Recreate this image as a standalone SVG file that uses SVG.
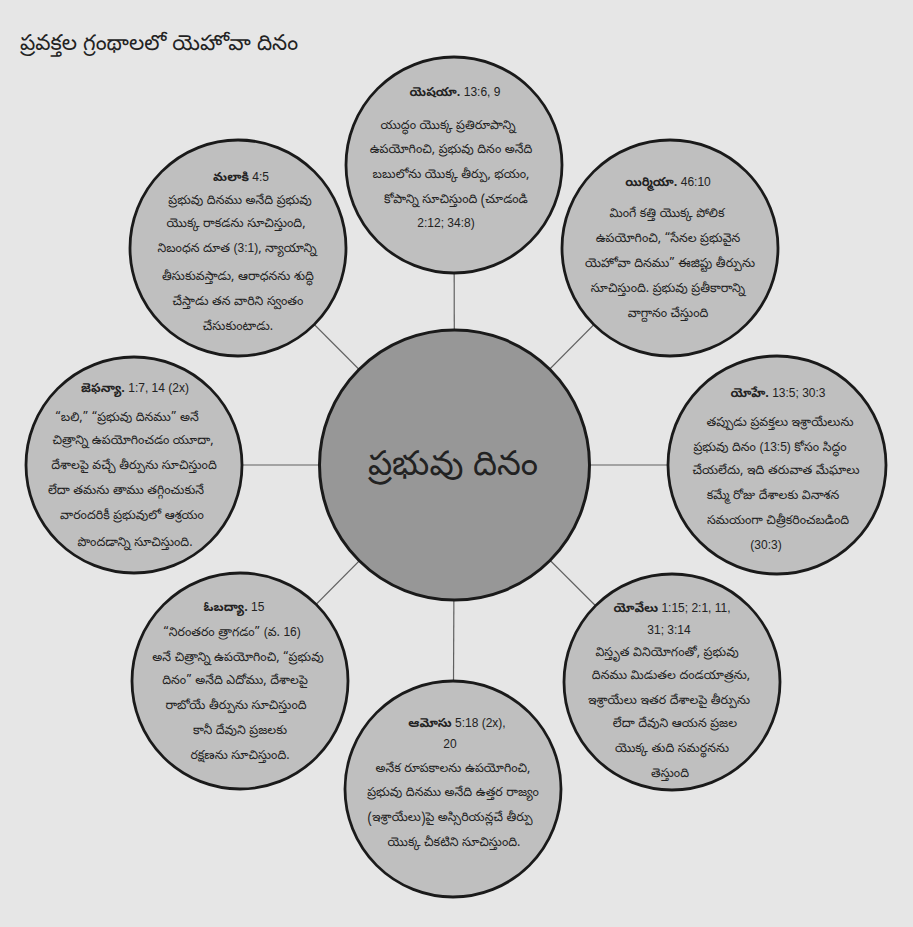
<svg xmlns="http://www.w3.org/2000/svg" width="913" height="927" viewBox="0 0 913 927">
<style>
.bg{fill:#e6e6e6}
.sat{fill:#bfbfbf;stroke:#1a1a1a;stroke-width:2.8}
.hub{fill:#979797;stroke:#1a1a1a;stroke-width:3}
.con line{stroke:#606060;stroke-width:1.2}
text{font-family:"Noto Sans Telugu","Lohit Telugu","Pothana2000","Gautami","Noto Sans","Liberation Sans",sans-serif;fill:#222;text-anchor:middle}
.t{font-size:12.5px}
.h{font-size:12.5px}
.b{font-weight:bold}
.n{font-family:"Liberation Sans",Arial,sans-serif;font-size:12px}
.title{font-size:21.5px;text-anchor:start}
.center{font-size:34px}
</style>
<rect class="bg" x="0" y="0" width="913" height="927"/>
<text class="title" x="20" y="50">ప్రవక్తల గ్రంథాలలో యెహోవా దినం</text>
<g id="connectors" class="con">
<line x1="454.5" y1="465" x2="454" y2="165"/>
<line x1="454.5" y1="465" x2="670" y2="248"/>
<line x1="454.5" y1="465" x2="777" y2="465"/>
<line x1="454.5" y1="465" x2="672" y2="682"/>
<line x1="454.5" y1="465" x2="453" y2="789"/>
<line x1="454.5" y1="465" x2="240" y2="681"/>
<line x1="454.5" y1="465" x2="134" y2="465"/>
<line x1="454.5" y1="465" x2="238" y2="248"/>
</g>
<g id="hub">
<circle class="hub" cx="454.5" cy="465" r="135"/>
<text class="center" x="453" y="475">ప్రభువు దినం</text>
</g>
<g id="isaiah">
<circle class="sat" cx="454" cy="165" r="108"/>
<text class="h" x="455" y="96"><tspan class="b">యెషయా.</tspan><tspan class="n"> 13:6, 9</tspan></text>
<text class="t" x="448" y="129">యుద్ధం యొక్క ప్రతిరూపాన్ని</text>
<text class="t" x="451" y="153">ఉపయోగించి, ప్రభువు దినం అనేది</text>
<text class="t" x="451" y="178">బబులోను యొక్క తీర్పు, భయం,</text>
<text class="t" x="456" y="203">కోపాన్ని సూచిస్తుంది (చూడండి</text>
<text class="n" x="446" y="227">2:12; 34:8)</text>
</g>
<g id="jeremiah">
<circle class="sat" cx="670" cy="248" r="108"/>
<text class="h" x="668" y="186"><tspan class="b">యిర్మియా.</tspan><tspan class="n"> 46:10</tspan></text>
<text class="t" x="667" y="217">మింగే కత్తి యొక్క పోలిక</text>
<text class="t" x="668" y="242">ఉపయోగించి, “సేనల ప్రభువైన</text>
<text class="t" x="670" y="267">యెహోవా దినము” ఈజిప్టు తీర్పును</text>
<text class="t" x="668" y="292">సూచిస్తుంది. ప్రభువు ప్రతీకారాన్ని</text>
<text class="t" x="668" y="317">వాగ్దానం చేస్తుంది</text>
</g>
<g id="joel-yohe">
<circle class="sat" cx="777" cy="465" r="109"/>
<text class="h" x="778" y="397"><tspan class="b">యోహే.</tspan><tspan class="n"> 13:5; 30:3</tspan></text>
<text class="t" x="780" y="426">తప్పుడు ప్రవక్తలు ఇశ్రాయేలును</text>
<text class="t" x="770" y="451">ప్రభువు దినం <tspan class="n">(13:5)</tspan> కోసం సిద్ధం</text>
<text class="t" x="776" y="474">చేయలేదు, ఇది తరువాత మేఘాలు</text>
<text class="t" x="773" y="499">కమ్మే రోజు దేశాలకు వినాశన</text>
<text class="t" x="778" y="524">సమయంగా చిత్రీకరించబడింది</text>
<text class="n" x="766" y="549">(30:3)</text>
</g>
<g id="joel">
<circle class="sat" cx="672" cy="682" r="108"/>
<text class="h" x="672" y="612"><tspan class="b">యోవేలు</tspan><tspan class="n"> 1:15; 2:1, 11,</tspan></text>
<text class="n" x="669" y="634">31; 3:14</text>
<text class="t" x="667" y="656">విస్తృత వినియోగంతో, ప్రభువు</text>
<text class="t" x="671" y="679">దినము మిడుతల దండయాత్రను,</text>
<text class="t" x="669" y="704">ఇశ్రాయేలు ఇతర దేశాలపై తీర్పును</text>
<text class="t" x="675" y="727">లేదా దేవుని ఆయన ప్రజల</text>
<text class="t" x="672" y="752">యొక్క తుది సమర్థనను</text>
<text class="t" x="670" y="777">తెస్తుంది</text>
</g>
<g id="amos">
<circle class="sat" cx="453" cy="789" r="108"/>
<text class="h" x="457" y="727"><tspan class="b">ఆమోసు</tspan><tspan class="n"> 5:18 (2x),</tspan></text>
<text class="n" x="450" y="748">20</text>
<text class="t" x="453" y="772">అనేక రూపకాలను ఉపయోగించి,</text>
<text class="t" x="453" y="796">ప్రభువు దినము అనేది ఉత్తర రాజ్యం</text>
<text class="t" x="450" y="821">(ఇశ్రాయేలు)పై అస్సిరియన్లచే తీర్పు</text>
<text class="t" x="454" y="846">యొక్క చీకటిని సూచిస్తుంది.</text>
</g>
<g id="obadiah">
<circle class="sat" cx="240" cy="681" r="108"/>
<text class="h" x="234" y="611"><tspan class="b">ఓబద్యా.</tspan><tspan class="n"> 15</tspan></text>
<text class="t" x="232" y="636">“నిరంతరం త్రాగడం” <tspan class="n">(</tspan>వ. <tspan class="n">16)</tspan></text>
<text class="t" x="238" y="661">అనే చిత్రాన్ని ఉపయోగించి, “ప్రభువు</text>
<text class="t" x="235" y="684">దినం” అనేది ఎదోము, దేశాలపై</text>
<text class="t" x="236" y="709">రాబోయే తీర్పును సూచిస్తుంది</text>
<text class="t" x="240" y="734">కానీ దేవుని ప్రజలకు</text>
<text class="t" x="240" y="759">రక్షణను సూచిస్తుంది.</text>
</g>
<g id="zephaniah">
<circle class="sat" cx="134" cy="465" r="108"/>
<text class="h" x="135" y="392"><tspan class="b">జెఫన్యా.</tspan><tspan class="n"> 1:7, 14 (2x)</tspan></text>
<text class="t" x="127" y="421">“బలి,” “ప్రభువు దినము” అనే</text>
<text class="t" x="133" y="444">చిత్రాన్ని ఉపయోగించడం యూదా,</text>
<text class="t" x="134" y="469">దేశాలపై వచ్చే తీర్పును సూచిస్తుంది</text>
<text class="t" x="126" y="494">లేదా తమను తాము తగ్గించుకునే</text>
<text class="t" x="132" y="519">వారందరికీ ప్రభువులో ఆశ్రయం</text>
<text class="t" x="135" y="546">పొందడాన్ని సూచిస్తుంది.</text>
</g>
<g id="malachi">
<circle class="sat" cx="238" cy="248" r="108"/>
<text class="h" x="241" y="181"><tspan class="b">మలాకి</tspan><tspan class="n"> 4:5</tspan></text>
<text class="t" x="240" y="204">ప్రభువు దినము అనేది ప్రభువు</text>
<text class="t" x="236" y="227">యొక్క రాకడను సూచిస్తుంది,</text>
<text class="t" x="237" y="252">నిబంధన దూత <tspan class="n">(3:1)</tspan>, న్యాయాన్ని</text>
<text class="t" x="238" y="280">తీసుకువస్తాడు, ఆరాధనను శుద్ధి</text>
<text class="t" x="238" y="305">చేస్తాడు తన వారిని స్వంతం</text>
<text class="t" x="238" y="330">చేసుకుంటాడు.</text>
</g>
</svg>
